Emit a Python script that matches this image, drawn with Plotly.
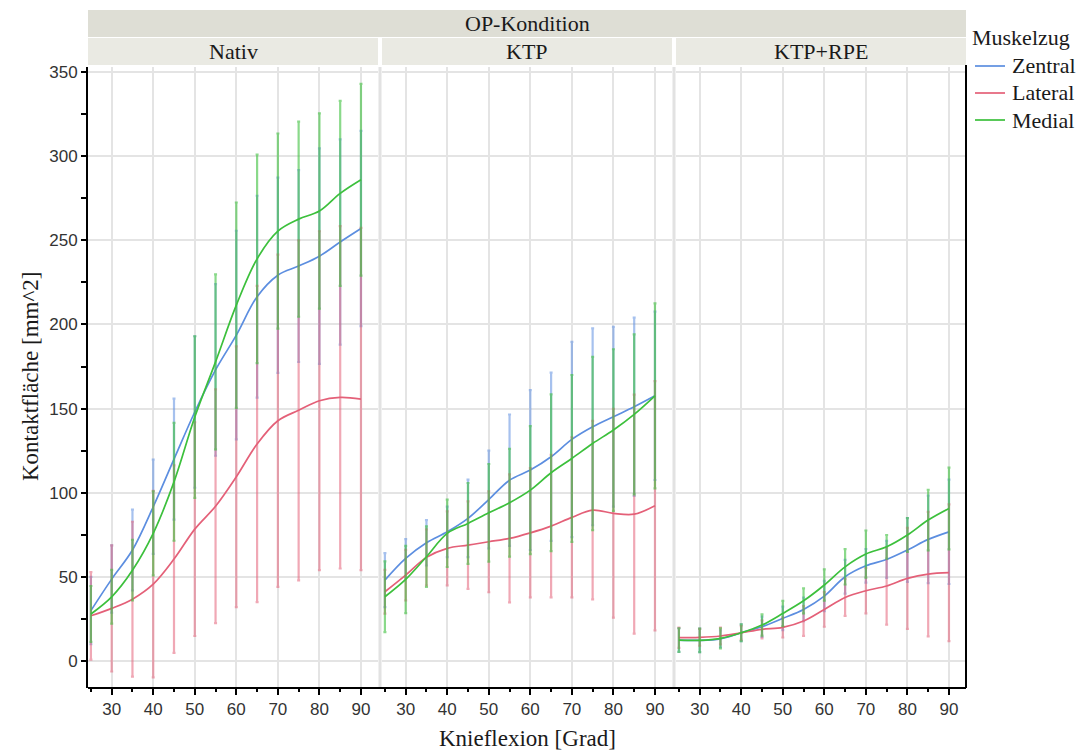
import plotly.graph_objects as go

# ---------------- data ----------------
flexion = [25, 30, 35, 40, 45, 50, 55, 60, 65, 70, 75, 80, 85, 90]
conditions = ["Nativ", "KTP", "KTP+RPE"]
muscles = ["Zentral", "Lateral", "Medial"]

nativ_zentral_mean = [30, 48.7, 66, 91.7, 120, 148, 173, 193.7, 216.5, 229.3, 234.7, 240.6, 249, 257]
nativ_zentral_sd = [20, 20, 24, 28, 36, 45, 51, 62, 60, 58, 57, 64, 61, 58]
nativ_lateral_mean = [26.9, 31.3, 36.8, 45.7, 60.6, 78.4, 92, 109.5, 129, 142.8, 149, 154.7, 156.7, 155.7]
nativ_lateral_sd = [26, 37.5, 46, 55.4, 55.7, 63.5, 69.4, 77.5, 94, 98.7, 101, 100.7, 101.7, 101.7]
nativ_medial_mean = [28, 38.2, 54, 75.9, 106.5, 145, 177.8, 211.5, 239, 255.5, 262.6, 267.4, 277.9, 286]
nativ_medial_sd = [16.6, 16, 18, 25, 35, 48, 52, 61, 62, 58, 58, 58, 55, 57]

ktp_zentral_mean = [48.1, 61, 70.3, 76.8, 84.8, 96, 107.5, 113.5, 121.4, 131.7, 139.2, 145.2, 151.1, 157.6]
ktp_zentral_sd = [16, 11.5, 13.5, 15, 23, 29, 39, 47.5, 50, 58, 58.5, 53.4, 53, 50]
ktp_lateral_mean = [41.2, 51.1, 61.6, 67, 68.9, 70.9, 72.9, 76.2, 80.2, 85.4, 89.7, 87.8, 87.3, 92.3]
ktp_lateral_sd = [13, 15, 16.6, 22, 26, 30, 38, 38.4, 42.4, 47.6, 53, 62, 71, 74]
ktp_medial_mean = [38.2, 48.5, 62, 75.9, 81.8, 88.1, 94.1, 101.6, 111.9, 120.4, 129.3, 137.3, 146.6, 157.6]
ktp_medial_sd = [21, 20, 18, 20, 24, 29, 32, 38, 46.6, 49.6, 51.5, 48, 47.5, 55]

rpe_zentral_mean = [12.5, 12.3, 13.2, 16.8, 20.4, 25.4, 30.7, 38.6, 50.1, 56.6, 60.4, 66, 72.3, 76.8]
rpe_zentral_sd = [7, 7, 5, 5, 6, 7, 7, 9, 10, 10, 11, 19, 26, 31]
rpe_lateral_mean = [13.9, 14.1, 14.9, 16.8, 18.8, 20, 23.8, 30.7, 37.8, 41.8, 44.6, 49.1, 51.7, 52.5]
rpe_lateral_sd = [6, 5, 5, 4, 5.3, 6, 8.8, 10.3, 11, 13.5, 23, 30, 37, 40.6]
rpe_medial_mean = [12.5, 12.3, 13.5, 16.8, 21.4, 28.3, 35.8, 45.2, 56, 63.6, 67.9, 74.9, 83.8, 90.7]
rpe_medial_sd = [7, 7, 6, 5, 6.3, 7.5, 7.4, 9.3, 10.5, 14, 7, 10, 18, 24.3]

x_tick_vals = [30, 40, 50, 60, 70, 80, 90]
y_tick_vals = [0, 50, 100, 150, 200, 250, 300, 350]

series = {
    "Nativ": [(nativ_zentral_mean, nativ_zentral_sd), (nativ_lateral_mean, nativ_lateral_sd), (nativ_medial_mean, nativ_medial_sd)],
    "KTP": [(ktp_zentral_mean, ktp_zentral_sd), (ktp_lateral_mean, ktp_lateral_sd), (ktp_medial_mean, ktp_medial_sd)],
    "KTP+RPE": [(rpe_zentral_mean, rpe_zentral_sd), (rpe_lateral_mean, rpe_lateral_sd), (rpe_medial_mean, rpe_medial_sd)],
}

line_colors = {"Zentral": "rgb(92,142,224)", "Lateral": "rgb(228,96,120)", "Medial": "rgb(60,192,60)"}
err_colors = {"Zentral": "rgba(92,142,224,0.55)", "Lateral": "rgba(228,96,120,0.55)", "Medial": "rgba(60,192,60,0.6)"}

# ---------------- layout geometry (page body has an 8px margin) ----------------
OFF = 8
W, H = 1088 - OFF, 753 - OFF
ml, mt = 88 - OFF, 67 - OFF
mr = W - (966 - OFF)
mb = H - (688 - OFF)
pw = W - ml - mr  # 878
ph = H - mt - mb  # 621
panel_px = 290
gap_px = 4
domains = []
for i in range(3):
    a = i * (panel_px + gap_px) / pw
    b = (i * (panel_px + gap_px) + panel_px) / pw
    domains.append([a, min(b, 1.0)])

def py(ywin):
    return (688 - ywin) / ph

def px(xwin):
    return (xwin - 88) / pw

fig = go.Figure()

for i, cond in enumerate(conditions):
    xa = "x" if i == 0 else f"x{i+1}"
    ya = "y" if i == 0 else f"y{i+1}"
    for j, m in enumerate(muscles):
        mean, sd = series[cond][j]
        fig.add_trace(go.Scatter(
            x=flexion, y=mean, mode="lines", name=m,
            legendgroup=m, showlegend=False,
            line=dict(color=line_colors[m], width=1.7, shape="spline", smoothing=1.0),
            error_y=dict(type="data", array=sd, visible=True, color=err_colors[m], thickness=2.2, width=1.5),
            xaxis=xa, yaxis=ya, hoverinfo="skip",
        ))

tickfont = dict(family="Liberation Sans, Arial, sans-serif", size=17, color="#333333")
axis_common_x = dict(
    range=[24.3, 94.1], tickvals=x_tick_vals, ticktext=[str(v) for v in x_tick_vals],
    ticks="outside", ticklen=6, tickwidth=2, tickcolor="black",
    minor=dict(tickvals=[25, 35, 45, 55, 65, 75, 85], ticks="outside", ticklen=3, tickwidth=1.5, tickcolor="black", showgrid=False),
    showgrid=True, gridcolor="#e4e4e4", gridwidth=2, showline=False, zeroline=False,
    tickfont=tickfont,
)
axis_common_y = dict(
    range=[-16, 353], tickvals=y_tick_vals,
    ticks="outside", ticklen=5, tickwidth=2, tickcolor="black",
    minor=dict(tickvals=[25, 75, 125, 175, 225, 275, 325], ticks="outside", ticklen=5, tickwidth=1.5, tickcolor="black", showgrid=False),
    showgrid=True, gridcolor="#e4e4e4", gridwidth=2, zeroline=False,
    tickfont=tickfont,
)

serif = "Liberation Serif, Times New Roman, serif"
layout = dict(
    width=W, height=H,
    margin=dict(l=ml, r=mr, t=mt, b=mb),
    paper_bgcolor="white", plot_bgcolor="white",
    showlegend=False,
)
for i in range(3):
    xk = "xaxis" if i == 0 else f"xaxis{i+1}"
    yk = "yaxis" if i == 0 else f"yaxis{i+1}"
    ax = dict(axis_common_x)
    ax["domain"] = domains[i]
    ax["anchor"] = "y" if i == 0 else f"y{i+1}"
    layout[xk] = ax
    ay = dict(axis_common_y)
    ay["domain"] = [0, 1]
    ay["anchor"] = "x" if i == 0 else f"x{i+1}"
    if i == 0:
        ay["showline"] = True
        ay["linecolor"] = "black"
        ay["linewidth"] = 2
    else:
        ay["showline"] = False
        ay["showticklabels"] = False
        ay["ticks"] = ""
        ay["minor"] = dict(ticks="", showgrid=False)
        ay["matches"] = "y"
    layout[yk] = ay

fig.update_layout(**layout)

shapes = []
# top strip
shapes.append(dict(type="rect", xref="paper", yref="paper", x0=0, x1=1, y0=py(37), y1=py(10),
                   fillcolor="#deded5", line=dict(width=0), layer="below"))
# panel strips
for i in range(3):
    shapes.append(dict(type="rect", xref="paper", yref="paper", x0=domains[i][0], x1=domains[i][1],
                       y0=py(65), y1=py(38), fillcolor="#eaeae3", line=dict(width=0), layer="below"))
# panel separators
for i in range(2):
    xc = (domains[i][1] + domains[i + 1][0]) / 2
    shapes.append(dict(type="line", xref="paper", yref="paper", x0=xc, x1=xc, y0=0, y1=1,
                       line=dict(color="#e2e2e2", width=3), layer="below"))
# bottom axis line
shapes.append(dict(type="line", xref="paper", yref="paper", x0=0, x1=1, y0=0, y1=0,
                   line=dict(color="black", width=2)))
# right border
shapes.append(dict(type="line", xref="paper", yref="paper", x0=1, x1=1, y0=0, y1=py(65),
                   line=dict(color="black", width=2)))

annotations = [
    dict(text="OP-Kondition", xref="paper", yref="paper", x=0.5, y=py(23.5), xanchor="center", yanchor="middle",
         showarrow=False, font=dict(family=serif, size=22, color="#1a1a1a")),
]
for i, cond in enumerate(conditions):
    annotations.append(dict(text=cond, xref="paper", yref="paper", x=(domains[i][0] + domains[i][1]) / 2,
                            y=py(51.5), xanchor="center", yanchor="middle", showarrow=False,
                            font=dict(family=serif, size=22, color="#1a1a1a")))
annotations.append(dict(text="Knieflexion [Grad]", xref="paper", yref="paper", x=0.5, y=py(738),
                        xanchor="center", yanchor="middle", showarrow=False,
                        font=dict(family=serif, size=23, color="#1a1a1a")))
annotations.append(dict(text="Kontaktfläche [mm^2]", xref="paper", yref="paper", x=px(30), y=py(377),
                        xanchor="center", yanchor="middle", textangle=-90, showarrow=False,
                        font=dict(family=serif, size=23, color="#1a1a1a")))

# manual legend
annotations.append(dict(text="Muskelzug", xref="paper", yref="paper", x=px(970), y=py(37),
                        xanchor="left", yanchor="middle", showarrow=False,
                        font=dict(family=serif, size=22, color="#1a1a1a")))
legend_y = [66, 93, 120]
for m, yy in zip(muscles, legend_y):
    shapes.append(dict(type="line", xref="paper", yref="paper", x0=px(975), x1=px(1005), y0=py(yy), y1=py(yy),
                       line=dict(color=line_colors[m], width=1.7)))
    annotations.append(dict(text=m, xref="paper", yref="paper", x=px(1010), y=py(yy),
                            xanchor="left", yanchor="middle", showarrow=False,
                            font=dict(family=serif, size=22, color="#1a1a1a")))

fig.update_layout(shapes=shapes, annotations=annotations)

fig.write_html("out.html")
